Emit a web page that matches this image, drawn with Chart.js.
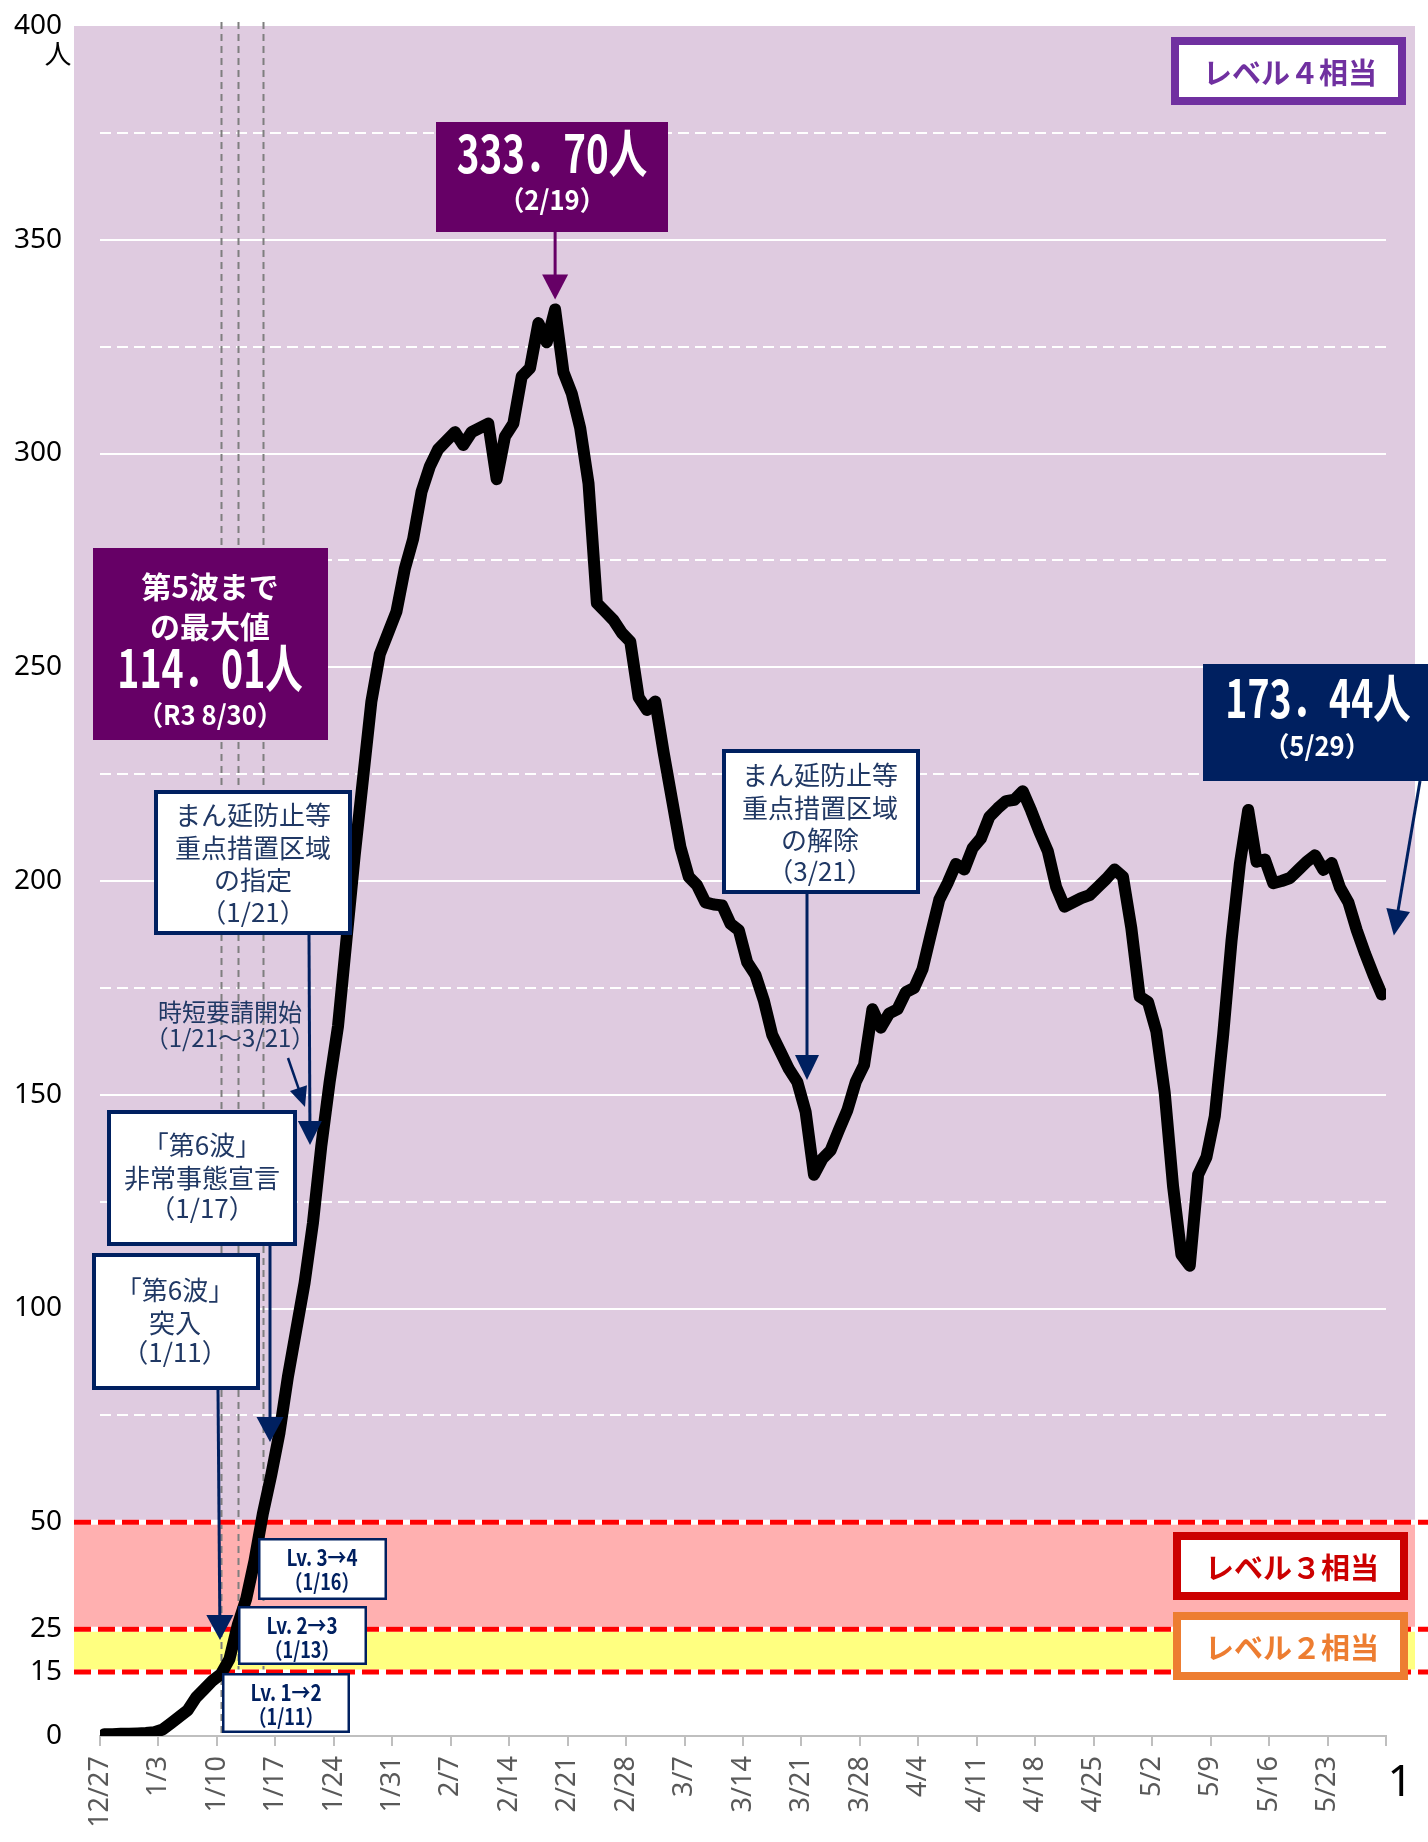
<!DOCTYPE html>
<html lang="ja">
<head>
<meta charset="utf-8">
<title>直近1週間の人口10万人当たり新規感染者数</title>
<script src="https://cdn.jsdelivr.net/npm/chart.js@4.4.0/dist/chart.umd.min.js"></script>
<style>
  html, body { margin: 0; padding: 0; background: #fff; }
  canvas { display: block; }
</style>
</head>
<body>
<canvas id="chart" width="1428" height="1842"></canvas>
<script>
// 横軸の目盛 (7日ごと, 最後は5/29の後ろの区切り)
const weekLabels = ['12/27', '1/3', '1/10', '1/17', '1/24', '1/31', '2/7', '2/14', '2/21', '2/28',
    '3/7', '3/14', '3/21', '3/28', '4/4', '4/11', '4/18', '4/25', '5/2', '5/9', '5/16', '5/23', ''];

// 日ごとの値 12/27 〜 5/29 (1行 = 1週間)
const values = [
    0.4, 0.4, 0.5, 0.5, 0.6, 0.7, 0.9,
    1.5, 3.0, 4.5, 6.0, 9.0, 11.0, 13.0,
    14.5, 18.0, 26.0, 32.0, 41.0, 52.0, 61.0,
    71, 84, 95, 106, 120, 138, 153,
    166, 186, 206, 224, 242, 253, 258,
    263, 273, 280, 291, 297, 301, 303,
    305, 302, 305, 306, 307, 294, 304,
    307, 318, 320, 330.5, 326, 333.70, 319,
    314, 306, 293, 265, 263, 261, 258,
    256, 243, 240, 242, 230, 219, 208,
    201, 199, 195, 194.5, 194.3, 190, 188.5,
    181, 178, 172, 164, 160, 156, 153,
    146, 131.3, 135, 137, 141.8, 146.4, 153,
    157, 170, 165.7, 169, 170, 174, 175,
    179.4, 187.6, 195.6, 199.5, 204, 202.7, 207.7,
    210, 215, 217, 218.7, 219, 221, 216.5,
    211.5, 207, 198.6, 194, 195, 196, 196.7,
    198.6, 200.5, 202.7, 201, 189, 173, 171.7,
    164.8, 150.5, 128.6, 112.6, 110, 131.3, 135.4,
    145, 164, 186, 204, 216.6, 204.5, 205,
    199.5, 200, 200.7, 202.6, 204.5, 206, 202.6,
    204.2, 198.4, 195, 188.5, 183, 178, 173.44
];

// 縦軸
const yMax = 400;
const yLabelValues = [0, 15, 25, 50, 100, 150, 200, 250, 300, 350, 400];
const solidGridValues = [100, 150, 200, 250, 300, 350];
const dashedGridValues = [75, 125, 175, 225, 275, 325, 375];

// レベルの境目 (レベル2, 3, 4)
const levelThresholds = [15, 25, 50];

// 縦の点線 (Lv.1→2, Lv.2→3, Lv.3→4)
const eventLineDays = [14, 16, 19];

const JP = '"Noto Sans CJK JP", "Noto Sans", sans-serif';
const NAVY = '#002060';
const NAVY_TEXT = '#203864';
const WINE = '#660066';

const yTicks = [...yLabelValues, ...dashedGridValues].sort((a, b) => a - b);

function drawText(c, str, x, y, o) {
    c.save();
    c.font = `${o.weight || 400} ${o.size}px ${o.family || JP}`;
    c.fillStyle = o.color;
    c.textAlign = 'center';
    c.textBaseline = 'middle';
    c.translate(x, y);
    c.scale(o.sx || 1, 1);
    c.fillText(str, 0, 0);
    c.restore();
}

function drawBox(c, x, y, w, h, fill, stroke, lw) {
    c.save();
    c.fillStyle = fill;
    c.fillRect(x, y, w, h);
    if (stroke) {
        c.strokeStyle = stroke;
        c.lineWidth = lw;
        c.strokeRect(x + lw / 2, y + lw / 2, w - lw, h - lw);
    }
    c.restore();
}

function drawArrow(c, x1, y1, x2, y2, color, lw, hl, hw) {
    const a = Math.atan2(y2 - y1, x2 - x1);
    c.save();
    c.strokeStyle = color;
    c.fillStyle = color;
    c.lineWidth = lw;
    c.beginPath();
    c.moveTo(x1, y1);
    c.lineTo(x2 - Math.cos(a) * hl * 0.8, y2 - Math.sin(a) * hl * 0.8);
    c.stroke();
    c.translate(x2, y2);
    c.rotate(a);
    c.beginPath();
    c.moveTo(0, 0);
    c.lineTo(-hl, -hw / 2);
    c.lineTo(-hl, hw / 2);
    c.closePath();
    c.fill();
    c.restore();
}

// 白枠の説明ボックス
function noteBox(c, x, y, w, h, lines, cx, ys, size) {
    drawBox(c, x, y, w, h, '#fff', NAVY, 4);
    lines.forEach((t, i) => drawText(c, t, cx, ys[i], { size: size, color: NAVY_TEXT }));
}

function lvBox(c, x, y, w, h, l1, l2, cx) {
    drawBox(c, x, y, w, h, '#fff', NAVY, 2.5);
    drawText(c, l1, cx, y + 19, { size: 23, weight: 700, color: NAVY, sx: 0.82 });
    drawText(c, l2, cx, y + 44, { size: 22, weight: 700, color: NAVY, sx: 0.82 });
}

function levelLabel(c, x, y, text, color) {
    drawBox(c, x, y, 235, 68, '#fff', color, 8);
    drawText(c, text, x + 119, y + 36, { size: 29, weight: 700, color: color });
}

const overlayPlugin = {
    id: 'overlay',
    beforeDraw(chart) {
        const c = chart.ctx;
        const area = chart.chartArea;
        const ys = chart.scales.y;
        const left = area.left - 26;
        const right = area.right + 29;
        c.save();
        c.fillStyle = '#fff';
        c.fillRect(0, 0, chart.width, chart.height);
        const bands = [
            [levelThresholds[2], yMax, '#dfcbe0'],
            [levelThresholds[1], levelThresholds[2], '#ffb0b0'],
            [levelThresholds[0], levelThresholds[1], '#ffff80']
        ];
        bands.forEach(([lo, hi, col]) => {
            const top = ys.getPixelForValue(hi);
            c.fillStyle = col;
            c.fillRect(left, top, right - left, ys.getPixelForValue(lo) - top);
        });
        c.restore();
    },
    beforeDatasetsDraw(chart) {
        const c = chart.ctx;
        const area = chart.chartArea;
        const xs = chart.scales.x;
        const ys = chart.scales.y;
        c.save();
        // 縦の点線
        c.strokeStyle = '#7f7f7f';
        c.lineWidth = 2;
        c.setLineDash([7, 5]);
        eventLineDays.forEach(d => {
            const x = Math.round(xs.getPixelForValue(d)) + 0.5;
            c.beginPath();
            c.moveTo(x, area.top - 4);
            c.lineTo(x, ys.getPixelForValue(0));
            c.stroke();
        });
        // レベル境界の赤い点線
        levelThresholds.forEach(v => {
            const y = ys.getPixelForValue(v);
            c.setLineDash([]);
            c.strokeStyle = '#fff';
            c.lineWidth = 5;
            c.beginPath();
            c.moveTo(area.left - 26, y);
            c.lineTo(chart.width, y);
            c.stroke();
            c.setLineDash([17, 7]);
            c.strokeStyle = '#ff0000';
            c.beginPath();
            c.moveTo(area.left - 26, y);
            c.lineTo(chart.width, y);
            c.stroke();
        });
        c.restore();
    },
    afterDraw(chart) {
        const c = chart.ctx;
        const xs = chart.scales.x;
        const ys = chart.scales.y;

        // 単位など
        drawText(c, '人', 58, 54, { size: 27, color: '#000' });
        drawText(c, '1', 1400, 1783, { size: 44, color: '#000', family: '"Noto Sans", sans-serif' });

        // ピーク
        const peak = values.indexOf(Math.max(...values));
        const px = xs.getPixelForValue(peak);
        drawBox(c, 436, 122, 232, 110, WINE);
        drawText(c, '333．70人', 552, 153, { size: 52, weight: 700, color: '#fff', sx: 0.74 });
        drawText(c, '（2/19）', 552, 200, { size: 27, weight: 700, color: '#fff', sx: 0.95 });
        drawArrow(c, px, 232, px, ys.getPixelForValue(values[peak]) - 10, WINE, 3, 25, 26);

        // 第5波までの最大値
        drawBox(c, 93, 548, 235, 192, WINE);
        drawText(c, '第5波まで', 210, 587, { size: 30, weight: 700, color: '#fff' });
        drawText(c, 'の最大値', 210, 627, { size: 30, weight: 700, color: '#fff' });
        drawText(c, '114．01人', 210, 668, { size: 52, weight: 700, color: '#fff', sx: 0.72 });
        drawText(c, '（R3 8/30）', 210, 715, { size: 27, weight: 700, color: '#fff', sx: 0.95 });

        // 最新値
        const last = values.length - 1;
        drawBox(c, 1203, 664, 240, 117, NAVY);
        drawText(c, '173．44人', 1318, 698, { size: 52, weight: 700, color: '#fff', sx: 0.72 });
        drawText(c, '（5/29）', 1317, 746, { size: 27, weight: 700, color: '#fff', sx: 0.95 });
        drawArrow(c, 1420, 781, xs.getPixelForValue(last) + 12, ys.getPixelForValue(values[last]) - 59, NAVY, 3, 26, 24);

        // まん延防止等重点措置 (指定)
        drawArrow(c, 309, 935, 310, 1145, NAVY, 3, 24, 24);
        noteBox(c, 154, 790, 198, 145, ['まん延防止等', '重点措置区域', 'の指定', '（1/21）'], 253, [815, 848, 880, 912], 26);

        // 時短要請
        drawText(c, '時短要請開始', 230, 1012, { size: 24, color: NAVY_TEXT });
        drawText(c, '（1/21〜3/21）', 230, 1038, { size: 24, color: NAVY_TEXT });
        drawArrow(c, 288, 1058, 305, 1107, NAVY, 2.5, 20, 18);

        // 非常事態宣言
        drawArrow(c, 270, 1246, 270, 1442, NAVY, 3, 25, 27);
        noteBox(c, 107, 1110, 190, 136, ['「第6波」', '非常事態宣言', '（1/17）'], 202, [1145, 1178, 1208], 26);

        // 第6波突入
        drawArrow(c, 218, 1390, 220, 1640, NAVY, 3, 25, 27);
        noteBox(c, 92, 1253, 168, 137, ['「第6波」', '突入', '（1/11）'], 175, [1290, 1323, 1352], 26);

        // レベル移行
        lvBox(c, 258, 1538, 129, 62, 'Lv. 3→4', '（1/16）', 322);
        lvBox(c, 238, 1606, 129, 59, 'Lv. 2→3', '（1/13）', 302);
        lvBox(c, 222, 1673, 128, 60, 'Lv. 1→2', '（1/11）', 286);

        // まん延防止等重点措置 (解除)
        drawArrow(c, 807, 894, 807, 1080, NAVY, 3, 25, 24);
        noteBox(c, 722, 749, 198, 145, ['まん延防止等', '重点措置区域', 'の解除', '（3/21）'], 820, [775, 808, 840, 871], 26);

        // レベル表示
        levelLabel(c, 1171, 37, 'レベル４相当', '#7030a0');
        levelLabel(c, 1173, 1532, 'レベル３相当', '#cc0000');
        levelLabel(c, 1173, 1612, 'レベル２相当', '#ed7d31');
    }
};

const chart = new Chart(document.getElementById('chart'), {
    type: 'line',
    data: {
        datasets: [{
            label: '直近1週間の人口10万人当たり新規感染者数',
            data: values.map((v, i) => ({ x: i, y: v })),
            borderColor: '#000',
            borderWidth: 12,
            pointRadius: 0,
            tension: 0,
            borderJoinStyle: 'round',
            borderCapStyle: 'round',
            fill: false
        }]
    },
    options: {
        responsive: false,
        animation: false,
        devicePixelRatio: 1,
        layout: { padding: { top: 26, right: 42, left: 0, bottom: 0 } },
        plugins: {
            legend: { display: false },
            tooltip: { enabled: false }
        },
        scales: {
            x: {
                type: 'linear',
                min: -0.5,
                max: values.length - 0.5,
                afterBuildTicks: s => { s.ticks = weekLabels.map((_, k) => ({ value: -0.5 + 7 * k })); },
                afterFit: s => { s.height = 106; s.paddingLeft = 0; s.paddingRight = 0; },
                grid: { drawOnChartArea: false, color: '#bfbfbf', lineWidth: 2, tickLength: 10 },
                border: { color: '#bfbfbf', width: 2 },
                ticks: {
                    autoSkip: false,
                    minRotation: 90,
                    maxRotation: 90,
                    padding: 10,
                    color: '#595959',
                    font: { family: '"Noto Sans", sans-serif', size: 27 },
                    callback: (v, i) => weekLabels[i]
                }
            },
            y: {
                type: 'linear',
                min: 0,
                max: yMax,
                afterBuildTicks: s => { s.ticks = yTicks.map(v => ({ value: v })); },
                afterFit: s => { s.width = 100; s.paddingTop = 0; s.paddingBottom = 0; },
                grid: {
                    drawTicks: false,
                    lineWidth: 2,
                    color: ctx => {
                        const v = ctx.tick && ctx.tick.value;
                        return (solidGridValues.includes(v) || dashedGridValues.includes(v)) ? '#fff' : 'rgba(0,0,0,0)';
                    }
                },
                border: {
                    display: false,
                    dash: ctx => dashedGridValues.includes(ctx.tick && ctx.tick.value) ? [11, 6] : []
                },
                ticks: {
                    autoSkip: false,
                    padding: 38,
                    color: '#000',
                    font: { family: '"Noto Sans", sans-serif', size: 28 },
                    callback: v => yLabelValues.includes(v) ? String(v) : ''
                }
            }
        }
    },
    plugins: [overlayPlugin]
});
</script>
</body>
</html>
